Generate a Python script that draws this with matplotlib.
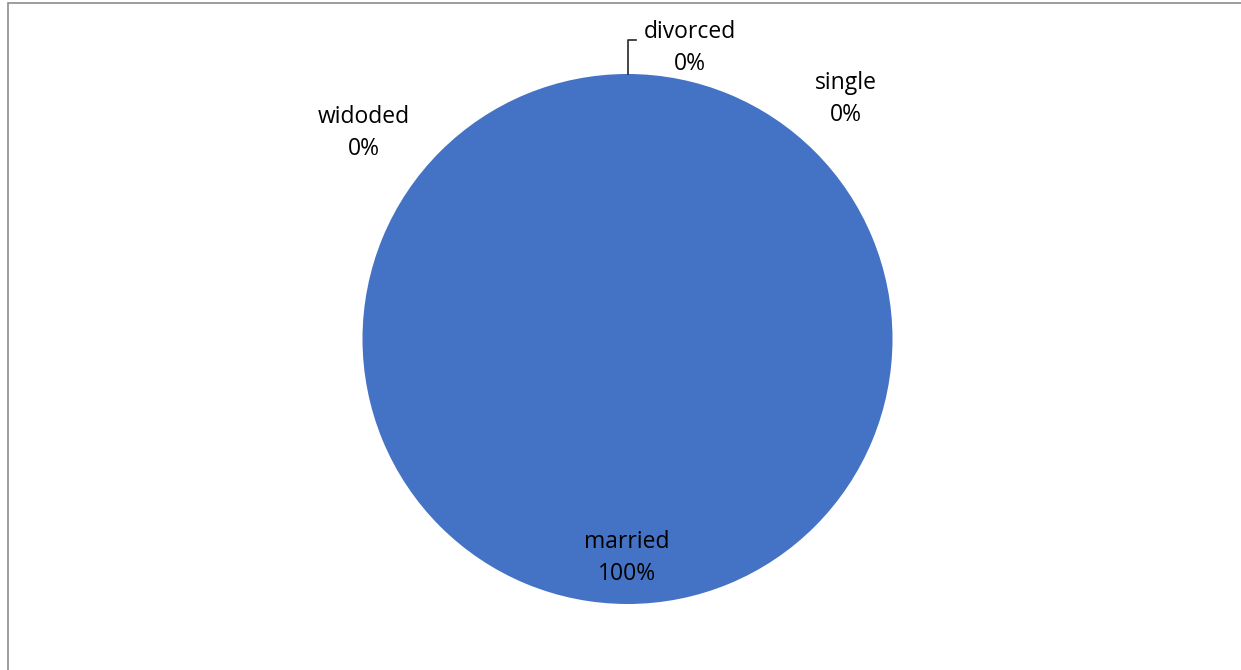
import matplotlib.pyplot as plt
from matplotlib.patches import Rectangle

categories = ['married', 'divorced', 'single', 'widoded']
shares = [100, 0, 0, 0]
pct_labels = ['100%', '0%', '0%', '0%']

W, H = 1241, 670
CX, CY, R = 627.5, 339, 265  # pie centre and radius, pixels from top-left


def px(x, y):
    """Pixel position (from top-left) to pie data units."""
    return (x - CX) / R, (CY - y) / R


fig = plt.figure(figsize=(W / 100, H / 100), dpi=100)
ax = fig.add_axes([0, 0, 1, 1])
ax.pie(shares, colors=['#4472C4'] * 4, startangle=90, counterclock=False,
       radius=1, wedgeprops=dict(linewidth=0))
ax.set_xlim(-CX / R, (W - CX) / R)
ax.set_ylim(-(H - CY) / R, CY / R)
ax.set_aspect('equal')
ax.axis('off')

# chart area frame, only top and left edges fall inside the image
fig.patches.append(Rectangle((8 / W, -0.1), 1.2, (H - 3) / H + 0.1,
                             transform=fig.transFigure, fill=False,
                             edgecolor='#8c8c8c', linewidth=1.2))

label_pos = {
    'married': (627, 558),
    'divorced': (690, 48),
    'single': (846, 99),
    'widoded': (364, 133),
}
for name, pct in zip(categories, pct_labels):
    x, y = px(*label_pos[name])
    ax.text(x, y, f'{name}\n{pct}', ha='center', va='center',
            fontsize=16.5, color='black', linespacing=1.4,
            family='Open Sans')

# leader line for the divorced label
lx0, ly0 = px(628, 74)
lx1, ly1 = px(628, 40)
lx2, _ = px(636, 40)
ax.plot([lx0, lx1, lx2], [ly0, ly1, ly1], color='#262626', linewidth=1.2)

fig.savefig('out.png', dpi=100)
